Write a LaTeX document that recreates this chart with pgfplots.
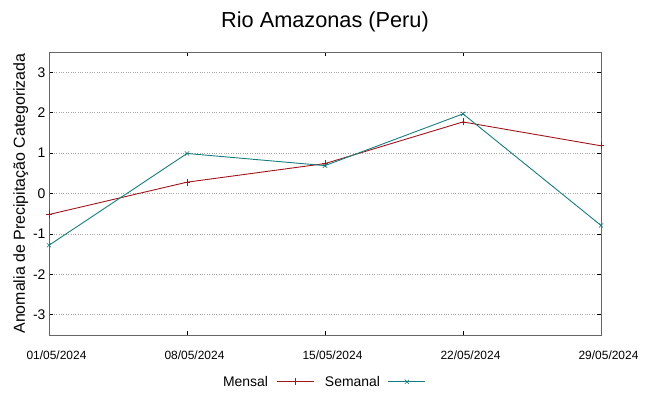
\documentclass[border=0pt]{standalone}
\usepackage{pgfplots}
\pgfplotsset{compat=1.18}
\usepackage{fontspec}
\setmainfont{Liberation Sans}
\definecolor{cM}{HTML}{A0141C}
\definecolor{cS}{HTML}{167C7E}
\begin{document}
\begin{tikzpicture}
\useasboundingbox (0,0) rectangle (649bp,396bp);
\begin{axis}[
  at={(49bp,61bp)}, anchor=south west,
  scale only axis, width=552bp, height=283bp,
  xmin=0, xmax=28, ymin=-3.5, ymax=3.5,
  xtick={0,7,14,21,28},
  xticklabels={01/05/2024,08/05/2024,15/05/2024,22/05/2024,29/05/2024},
  ytick={-3,-2,-1,0,1,2,3},
  x tick label style={font=\fontsize{12}{14}\selectfont, yshift=-12bp, xshift=7.5bp},
  y tick label style={font=\fontsize{14}{16}\selectfont},
  /pgf/number format/assume math mode=true,
  tick align=inside, major tick length=4bp,
  tick style={black, line width=0.8pt},
  axis line style={draw=black!60, line width=0.9pt},
  ymajorgrids, grid style={dotted, gray!70, line width=0.6pt},
  title={Rio Amazonas (Peru)},
  title style={font=\fontsize{21.8}{25}\selectfont, yshift=11bp},
  ylabel={Anomalia de Precipitação Categorizada},
  ylabel style={font=\fontsize{16}{19}\selectfont, yshift=-2bp},
  legend columns=2,
  legend plot pos=right,
  legend style={draw=none, fill=none, at={(0.5,-0.13)}, anchor=north,
    font=\fontsize{14}{16}\selectfont, /tikz/every even column/.append style={column sep=6bp}},
  legend image code/.code={\path (0bp,0bp) (46bp,0bp); \draw[mark repeat=2, mark phase=2, #1] plot coordinates {(6bp,0bp) (24.5bp,0bp) (43bp,0bp)};},
]
\addplot[cM, line width=0.9pt, mark=+, mark size=3.5pt, mark options={line width=0.6pt}] coordinates {
(0,-0.52) (7,0.28) (14,0.74) (21,1.77) (28,1.18)};
\addlegendentry{Mensal}
\addplot[cS, line width=0.9pt, mark=x, mark size=3pt, mark options={line width=0.6pt}] coordinates {
(0,-1.28) (7,0.99) (14,0.69) (21,1.97) (28,-0.79)};
\addlegendentry{Semanal}
\end{axis}
\end{tikzpicture}
\end{document}
